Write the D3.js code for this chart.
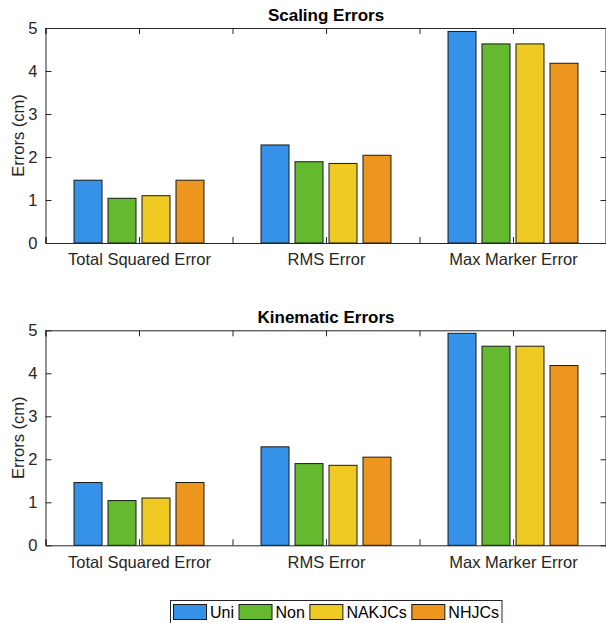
<!DOCTYPE html>
<html>
<head>
<meta charset="utf-8">
<script src="https://cdn.jsdelivr.net/npm/d3@7"></script>
<style>
  html, body { margin: 0; padding: 0; background: #fff; }
  svg { display: block; font-family: "Liberation Sans", Arial, Helvetica, sans-serif; }
</style>
</head>
<body>
<svg id="chart" width="606" height="623"></svg>
<script>
// ---- data ----
const categories = ["Total Squared Error", "RMS Error", "Max Marker Error"];
const seriesNames = ["Uni", "Non", "NAKJCs", "NHJCs"];
const seriesColors = ["#3691E8", "#64B92F", "#EECA23", "#EC961E"];
const yTicks = [0, 1, 2, 3, 4, 5];

const scalingUni    = [1.46, 2.28, 4.92];
const scalingNon    = [1.04, 1.89, 4.63];
const scalingNAKJCs = [1.10, 1.85, 4.63];
const scalingNHJCs  = [1.46, 2.04, 4.18];

const kinematicUni    = [1.46, 2.29, 4.93];
const kinematicNon    = [1.04, 1.90, 4.63];
const kinematicNAKJCs = [1.10, 1.86, 4.63];
const kinematicNHJCs  = [1.46, 2.05, 4.18];

const panels = [
  { title: "Scaling Errors", series: [scalingUni, scalingNon, scalingNAKJCs, scalingNHJCs], top: 28, bottom: 243 },
  { title: "Kinematic Errors", series: [kinematicUni, kinematicNon, kinematicNAKJCs, kinematicNHJCs], top: 330.3, bottom: 545.3 }
];

const svg = d3.select("#chart");
const left = 45.5, right = 606.5;
const axisColor = "#262626";
const tickLen = 6;

const x = d3.scaleLinear().domain([0.5, 3.5]).range([left, right]);
const halfGroup = (x(1) - x(0.5)) * 0.695;
const inner = d3.scaleBand().domain(seriesNames).range([-halfGroup, halfGroup]).paddingInner(6 / 34);

panels.forEach(p => {
  const g = svg.append("g");
  const y = d3.scaleLinear().domain([0, 5]).range([p.bottom, p.top]);

  // bars
  p.series.forEach((vals, si) => {
    g.selectAll(null)
      .data(vals)
      .enter()
      .append("rect")
      .attr("x", (d, i) => x(i + 1) + inner(seriesNames[si]))
      .attr("y", d => y(d))
      .attr("width", inner.bandwidth())
      .attr("height", d => y(0) - y(d))
      .attr("fill", seriesColors[si])
      .attr("stroke", "#1a1a1a")
      .attr("stroke-width", 1);
  });

  // axes box lines
  const xTickVals = d3.range(0.5, 3.51, 0.5);
  const axLeft = g.append("g").attr("transform", `translate(${left},0)`)
    .call(d3.axisLeft(y).tickValues(yTicks).tickSize(-tickLen).tickPadding(8).tickFormat(d3.format("d")));
  const axRight = g.append("g").attr("transform", `translate(${right},0)`)
    .call(d3.axisRight(y).tickValues(yTicks).tickSize(-tickLen).tickFormat(""));
  const axBottom = g.append("g").attr("transform", `translate(0,${p.bottom})`)
    .call(d3.axisBottom(x).tickValues(xTickVals).tickSize(-tickLen).tickPadding(10.5)
      .tickFormat(d => Number.isInteger(d) ? categories[d - 1] : ""));
  const axTop = g.append("g").attr("transform", `translate(0,${p.top})`)
    .call(d3.axisTop(x).tickValues(xTickVals).tickSize(-tickLen).tickFormat(""));

  [axLeft, axRight, axBottom, axTop].forEach(a => {
    a.selectAll("path").attr("stroke", axisColor).attr("stroke-width", 1);
    a.selectAll("line").attr("stroke", axisColor).attr("stroke-width", 1);
    a.selectAll("text").attr("fill", axisColor).style("font-size", "16.5px")
      .style("font-family", "'Liberation Sans', Arial, sans-serif");
  });
  axLeft.selectAll("path").attr("d", `M0.5,${p.bottom}V${p.top}`);
  axRight.selectAll("path").attr("d", `M-0.5,${p.bottom}V${p.top}`);

  // title
  g.append("text")
    .attr("x", (left + right) / 2)
    .attr("y", p.top - 7.5)
    .attr("text-anchor", "middle")
    .style("font-size", "17px")
    .style("font-weight", "bold")
    .attr("fill", "#000")
    .text(p.title);

  // y label
  g.append("text")
    .attr("transform", `translate(24,${(p.top + p.bottom) / 2}) rotate(-90)`)
    .attr("text-anchor", "middle")
    .style("font-size", "16.5px")
    .attr("fill", axisColor)
    .text("Errors (cm)");
});

// legend
const legend = svg.append("g");
const legBox = legend.append("rect")
  .attr("x", 170.5).attr("y", 600.5)
  .attr("height", 24)
  .attr("fill", "#fff")
  .attr("stroke", axisColor)
  .attr("stroke-width", 1);
let cx = 173.5;
seriesNames.forEach((name, i) => {
  legend.append("rect")
    .attr("x", cx).attr("y", 604.5)
    .attr("width", 33).attr("height", 15)
    .attr("fill", seriesColors[i])
    .attr("stroke", "#1a1a1a").attr("stroke-width", 1);
  const t = legend.append("text")
    .attr("x", cx + 36.5).attr("y", 618)
    .style("font-size", "16px")
    .attr("fill", "#000")
    .text(name);
  cx = cx + 36.5 + t.node().getComputedTextLength() + 5;
});
legBox.attr("width", cx - 170.5 - 2);
</script>
</body>
</html>
